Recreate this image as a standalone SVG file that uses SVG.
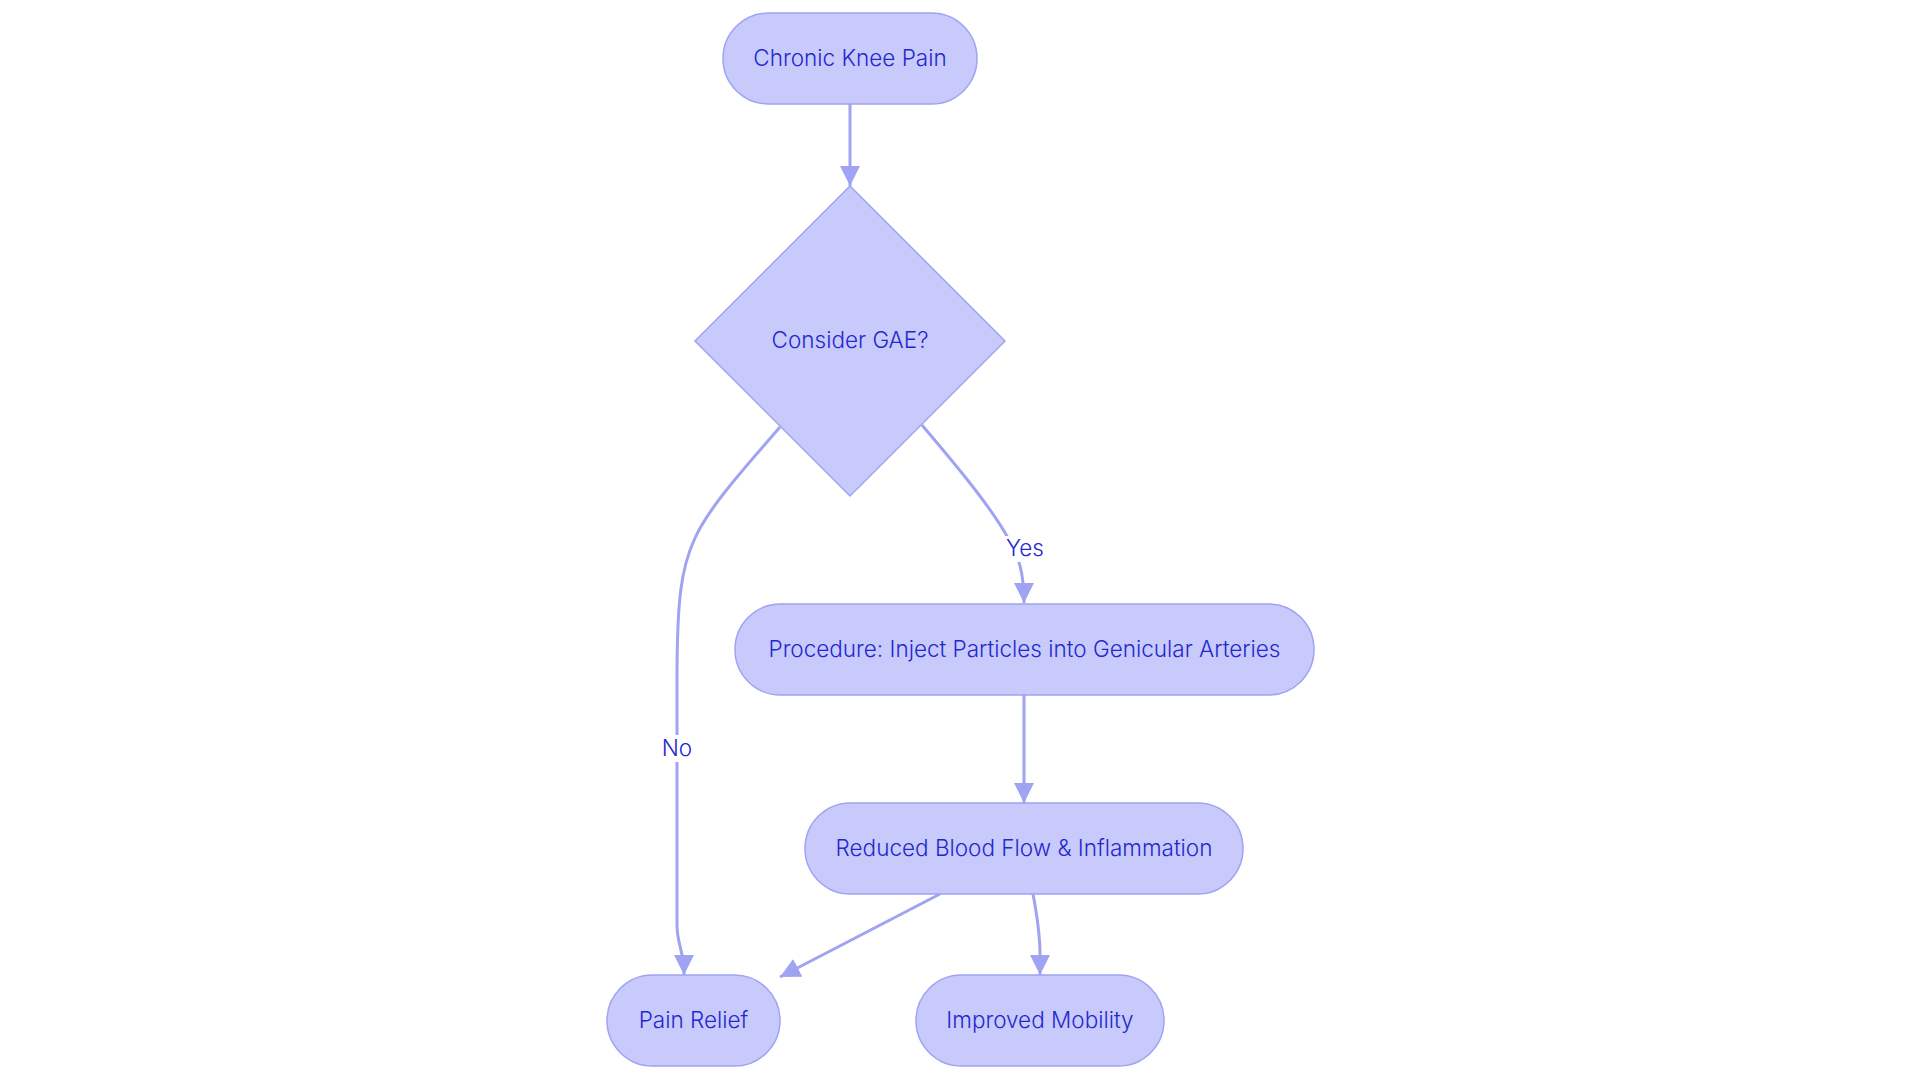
<svg xmlns="http://www.w3.org/2000/svg" width="1920" height="1083" viewBox="0 0 1920 1083">
  <style>
    .node { fill: #C8CAFC; stroke: #9FA3F2; stroke-width: 1.5; }
    .label { font-family: Inter, "Open Sans", "Liberation Sans", sans-serif; font-size: 22.5px; font-weight: 300; fill: #2428CC; text-anchor: middle; dominant-baseline: central; }
    .edge { fill: none; stroke: #9FA3F2; stroke-width: 3; }
    .elbg { fill: #FFFFFF; }
  </style>
  <defs>
    <marker id="arrow" viewBox="0 0 10 10" refX="10" refY="5" markerWidth="20" markerHeight="20" markerUnits="userSpaceOnUse" orient="auto">
      <path d="M0,0 L10,5 L0,10 z" fill="#9FA3F2"/>
    </marker>
  </defs>
  <rect width="1920" height="1083" fill="#FFFFFF"/>

  <g id="connectors">
    <path class="edge" d="M850,104 L850,186" marker-end="url(#arrow)"/>
    <path class="edge" d="M922,425 C950,458 990,505 1008,538 C1018,556 1024,570 1024,603" marker-end="url(#arrow)"/>
    <path class="edge" d="M780,427 C750,462 710,505 695,538 C681,568 677,600 677,680 L677,925 C677,945 684,950 684,975" marker-end="url(#arrow)"/>
    <path class="edge" d="M1024,695 L1024,803" marker-end="url(#arrow)"/>
    <path class="edge" d="M940,894 L780,977" marker-end="url(#arrow)"/>
    <path class="edge" d="M1033,894 C1037,915 1040,935 1040,955 L1040,975" marker-end="url(#arrow)"/>
    <g id="label-yes">
      <rect class="elbg" x="1005" y="536" width="40" height="26"/>
      <text class="label" x="1025" y="547">Yes</text>
    </g>
    <g id="label-no">
      <rect class="elbg" x="662" y="735" width="30" height="27"/>
      <text class="label" x="677" y="747">No</text>
    </g>
  </g>

  <g id="node-chronic">
    <rect class="node" x="723" y="13" width="254" height="91" rx="45.5" ry="45.5"/>
    <text class="label" x="850" y="57">Chronic Knee Pain</text>
  </g>
  <g id="node-consider">
    <polygon class="node" points="850,186 1005,341 850,496 695,341"/>
    <text class="label" x="850" y="339.5">Consider GAE?</text>
  </g>
  <g id="node-procedure">
    <rect class="node" x="735" y="604" width="579" height="91" rx="45.5" ry="45.5"/>
    <text class="label" x="1024.5" y="648">Procedure: Inject Particles into Genicular Arteries</text>
  </g>
  <g id="node-reduced">
    <rect class="node" x="805" y="803" width="438" height="91" rx="45.5" ry="45.5"/>
    <text class="label" x="1024" y="847">Reduced Blood Flow &amp; Inflammation</text>
  </g>
  <g id="node-pain">
    <rect class="node" x="607" y="975" width="173" height="91" rx="45.5" ry="45.5"/>
    <text class="label" x="693.5" y="1019">Pain Relief</text>
  </g>
  <g id="node-mobility">
    <rect class="node" x="916" y="975" width="248" height="91" rx="45.5" ry="45.5"/>
    <text class="label" x="1040" y="1019">Improved Mobility</text>
  </g>
</svg>
